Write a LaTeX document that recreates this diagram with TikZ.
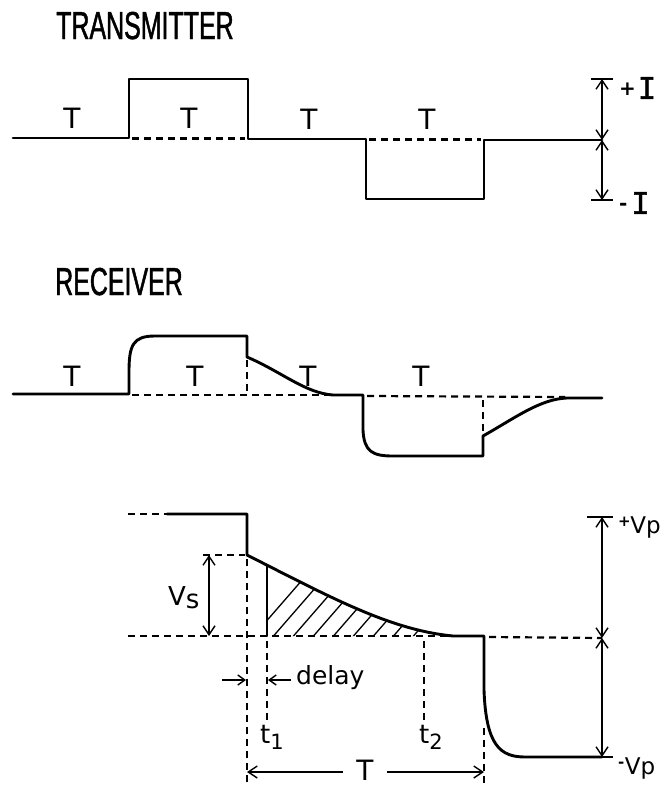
\documentclass[tikz,border=0pt]{standalone}
\usepackage{fontspec}
\usepackage{graphicx}
\setmainfont{DejaVu Sans}
\newfontfamily\titlefont[FakeStretch=0.64,FakeBold=1.2]{Liberation Sans}
\newfontfamily\monofont[FakeBold=1.5]{DejaVu Sans Mono}
\usetikzlibrary{arrows.meta}
\tikzset{
  wave/.style={line width=2.9pt, line join=round, line cap=round},
  dsh/.style={line width=2.2pt, dash pattern=on 7pt off 5pt},
  dimline/.style={line width=1.4pt},
  tick/.style={line width=1.6pt},
  barb/.tip={Straight Barb[length=9pt,width=12pt,line width=1.4pt]},
  sbarb/.tip={Straight Barb[length=7pt,width=10pt,line width=1.4pt]},
  hatch/.style={line width=1.3pt},
  lbl/.style={inner sep=0pt, font=\fontsize{28}{30}\selectfont},
  ttl/.style={inner sep=0pt, anchor=base west, font=\titlefont\fontsize{39}{42}\selectfont},
}
\begin{document}
\begin{tikzpicture}[x=1pt,y=-1pt]
\useasboundingbox (0,0) rectangle (663,787);
\fill[white] (0,0) rectangle (663,787);

% ---------------- TRANSMITTER ----------------
\node[ttl] (ttx) at (56,39) {TRANSMITTER};
\draw[wave] (13,138) -- (129,138) -- (129,79) -- (248,79) -- (248,139)
  -- (366,139) -- (366,199) -- (484,199) -- (484,140) -- (602,140);
\draw[dsh] (132,138.5) -- (245,138.5);
\draw[dsh] (369,139.5) -- (481,139.5);
\node[lbl] (tt1) at (72,118) {T};
\node[lbl] (tt2) at (189,118) {T};
\node[lbl] (tt3) at (309,119) {T};
\node[lbl] (tt4) at (427,119) {T};
% dimension I
\coordinate (ia) at (602,79);
\coordinate (ib) at (602,140);
\coordinate (ic) at (602,200);
\draw[tick] (591,79) -- (613,79);
\draw[tick] (591,200) -- (613,200);
\draw[dimline,barb-barb] (ia) -- (ib);
\draw[dimline,barb-barb] (ib) -- (ic);
\node[inner sep=0pt, anchor=west] (pI) at (619,88)
  {\raisebox{3pt}{\fontsize{20}{20}\selectfont\bfseries +}\hspace{2pt}\monofont\fontsize{30}{30}\selectfont I};
\node[inner sep=0pt, anchor=west] (mI) at (619,203)
  {\raisebox{3pt}{\fontsize{20}{20}\selectfont\bfseries -}\hspace{4pt}\monofont\fontsize{30}{30}\selectfont I};

% ---------------- RECEIVER ----------------
\node[ttl] (trx) at (55,295) {RECEIVER};
\draw[wave] (13,394) -- (129,394) -- (129,372)
  .. controls (129,345) and (133,336) .. (155,336)
  -- (247,336) -- (247,357)
  .. controls (282,372) and (305,393) .. (333,395)
  -- (363,395) -- (363,430)
  .. controls (364,452) and (373,456) .. (393,456)
  -- (483,456) -- (483,436)
  .. controls (515,418) and (540,399) .. (567,398) -- (602,398);
\draw[dsh] (132,395) -- (330,395);
\draw[dsh] (367,396) -- (565,397);
\draw[dsh] (247,360) -- (247,393);
\draw[dsh] (483,400) -- (483,434);
\node[lbl] (rt1) at (72,376) {T};
\node[lbl] (rt2) at (195,376) {T};
\node[lbl] (rt3) at (308,376) {T};
\node[lbl] (rt4) at (421,376) {T};

% ---------------- DETAIL ----------------
\draw[dsh] (128,514) -- (167,514);
\draw[wave] (167,514) -- (247,514) -- (247,555)
  .. controls (330,597) and (390,630) .. (453,636)
  -- (484,636) -- (484,690)
  .. controls (486,745) and (500,757) .. (525,757) -- (602,757);
% hatch
\begin{scope}
  \clip (267,540) rectangle (470,637);
  \clip (247,555) .. controls (330,597) and (390,630) .. (453,636) -- (247,636) -- cycle;
  \foreach \i in {0,...,12} {
    \draw[hatch] (250+20*\i,640) -- ++(100,-115);
  }
\end{scope}
\draw[wave, line width=2pt] (267,566) -- (267,636);
% dashed guides
\draw[dsh] (128,636) -- (452,636);
\draw[dsh] (489,637) -- (602,638);
\draw[dsh] (203,555) -- (245,555);
\draw[dsh] (247,559) -- (247,787);
\draw[dsh] (267,641) -- (267,722);
\draw[dsh] (424,641) -- (424,720);
\draw[dsh] (484,728) -- (484,787);
% Vs
\coordinate (vsa) at (209,555);
\coordinate (vsb) at (209,636);
\draw[dimline,barb-barb] (vsa) -- (vsb);
\node[inner sep=0pt, anchor=base west, font=\fontsize{26}{28}\selectfont] (vs) at (168,605) {V\raisebox{-3pt}{s}};
% delay
\coordinate (d1) at (222,680);
\coordinate (d2) at (246,680);
\coordinate (d3) at (291,680);
\coordinate (d4) at (268,680);
\draw[dimline,-sbarb] (d1) -- (d2);
\draw[dimline,-sbarb] (d3) -- (d4);
\node[inner sep=0pt, anchor=base west, font=\fontsize{25}{28}\selectfont] (dl) at (296,684) {delay};
\node[inner sep=0pt, anchor=base west, font=\fontsize{26}{28}\selectfont] (t1) at (260,743) {t\raisebox{-6pt}{\fontsize{21}{21}\selectfont 1}};
\node[inner sep=0pt, anchor=base west, font=\fontsize{26}{28}\selectfont] (t2) at (419,743) {t\raisebox{-6pt}{\fontsize{21}{21}\selectfont 2}};
% T span
\node[inner sep=0pt, anchor=base, font=\fontsize{28}{30}\selectfont] (tT) at (365,780) {T};
\coordinate (ta) at (247,772);
\coordinate (tb) at (484,772);
\draw[dimline,barb-] (ta) -- (343,772);
\draw[dimline,-barb] (387,772) -- (tb);
% Vp
\coordinate (va) at (602,517);
\coordinate (vb) at (602,638);
\coordinate (vc) at (602,757);
\draw[tick] (587,517) -- (613,517);
\draw[tick] (587,757) -- (613,757);
\draw[dimline,barb-barb] (va) -- (vb);
\draw[dimline,barb-barb] (vb) -- (vc);
\node[inner sep=0pt, anchor=base west] (pV) at (618,533)
  {\raisebox{7pt}{\fontsize{15}{15}\selectfont\bfseries +}\hspace{-0.5pt}\fontsize{23}{26}\selectfont Vp};
\node[inner sep=0pt, anchor=base west] (mV) at (618,774)
  {\raisebox{7pt}{\fontsize{15}{15}\selectfont\bfseries -}\hspace{0.5pt}\fontsize{23}{26}\selectfont Vp};
\end{tikzpicture}
\end{document}
